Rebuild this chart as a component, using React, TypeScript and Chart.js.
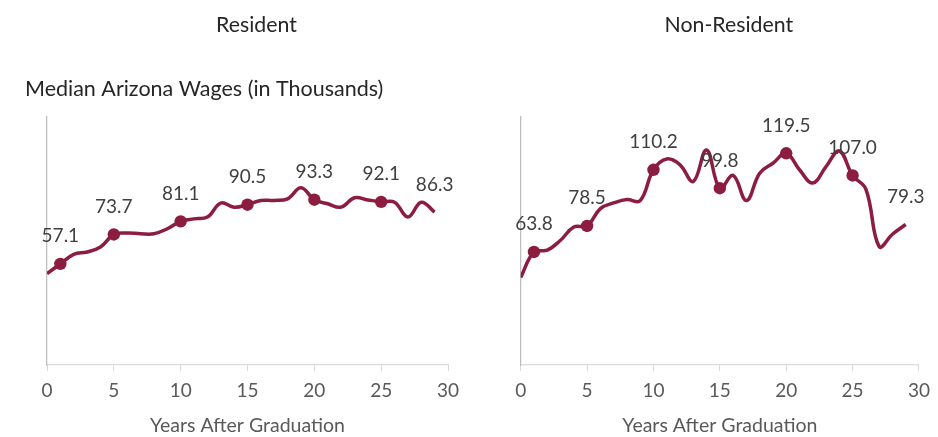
import React, { useEffect, useRef } from "react";
import { Chart, registerables } from "chart.js";

Chart.register(...registerables);

const years = [0, 1, 2, 3, 4, 5, 6, 7, 8, 9, 10, 11, 12, 13, 14, 15, 16, 17, 18, 19, 20, 21, 22, 23, 24, 25, 26, 27, 28, 29];
const residentWages = [51.6, 57.1, 62.5, 63.8, 66.6, 73.7, 74.5, 74.1, 74.1, 76.9, 81.1, 82.5, 83.5, 91.4, 89.1, 90.5, 92.9, 92.9, 93.8, 100.0, 93.3, 91.0, 89.1, 94.4, 93.2, 92.1, 91.9, 83.5, 91.9, 86.3];
const nonResidentWages = [49.5, 63.8, 64.8, 70.4, 77.9, 78.5, 88.3, 91.5, 93.4, 92.8, 110.2, 116.3, 113.0, 103.6, 121.4, 99.8, 107.0, 92.8, 108.3, 113.9, 119.5, 110.2, 102.7, 112.0, 120.8, 107.0, 99.3, 66.9, 73.8, 79.3];
const markerYears = [1, 5, 10, 15, 20, 25];
const labelYears = [1, 5, 10, 15, 20, 25, 29];
const panelTitles = ["Resident", "Non-Resident"];
const yAxisTitle = "Median Arizona Wages (in Thousands)";
const xAxisTitle = "Years After Graduation";
const xMin = 0;
const xMax = 30;
const xStep = 5;
const yMin = 0;
const yMax = 140;

const MAROON = "#8C1D40";
const FONT = "Lato";

function makeOverlay(title: string, showYTitle: boolean) {
  return {
    id: "overlayText",
    afterDraw(chart: any) {
      const ctx = chart.ctx;
      const area = chart.chartArea;
      ctx.save();
      ctx.font = `400 21.3px ${FONT}`;
      ctx.fillStyle = "#262626";
      ctx.textAlign = "center";
      ctx.textBaseline = "alphabetic";
      ctx.fillText(title, (area.left + area.right) / 2 + 9, 32);
      if (showYTitle) {
        ctx.textAlign = "left";
        ctx.font = `400 21.5px ${FONT}`;
        ctx.fillText(yAxisTitle, 25, 95.5);
      }
      const meta = chart.getDatasetMeta(0);
      const ds = chart.data.datasets[0].data as any[];
      ctx.font = `400 19px ${FONT}`;
      ctx.fillStyle = "#404040";
      ctx.textAlign = "center";
      ds.forEach((d: any, i: number) => {
        if (labelYears.includes(d.x)) {
          const el = meta.data[i];
          ctx.fillText(d.y.toFixed(1), el.x, el.y - 21.5);
        }
      });
      ctx.restore();
    },
  };
}

function Panel({ values, title, showYTitle }: { values: number[]; title: string; showYTitle: boolean }) {
  const ref = useRef<HTMLCanvasElement | null>(null);
  useEffect(() => {
    if (!ref.current) return;
    const points = years.map((x, i) => ({ x, y: values[i] }));
    const chart = new Chart(ref.current, {
      type: "line",
      data: {
        datasets: [
          {
            data: points,
            borderColor: MAROON,
            backgroundColor: MAROON,
            borderWidth: 3.5,
            tension: 0.4,
            pointRadius: years.map((y) => (markerYears.includes(y) ? 6.2 : 0)),
            pointHoverRadius: 0,
            pointBorderWidth: 0,
            fill: false,
          },
        ],
      },
      options: {
        responsive: false,
        animation: false,
        events: [],
        layout: { padding: { left: showYTitle ? 47 : 51.7, right: showYTitle ? 21 : 17, top: 117, bottom: 0 } },
        plugins: { legend: { display: false }, tooltip: { enabled: false }, title: { display: false } },
        scales: {
          x: {
            type: "linear",
            min: xMin,
            max: xMax,
            afterFit: (s: any) => {
              s.height = 72;
            },
            ticks: { stepSize: xStep, color: "#595959", font: { family: FONT, size: 19, weight: "400" }, padding: 8 },
            grid: { display: true, drawOnChartArea: false, drawTicks: true, tickLength: 6, color: "#d9d9d9" },
            border: { display: true, color: "#d9d9d9", width: 1.3 },
            title: {
              display: true,
              text: xAxisTitle,
              color: "#595959",
              font: { family: FONT, size: 19.5, weight: "400" },
              padding: { top: 0, bottom: 0 },
            },
          },
          y: {
            type: "linear",
            min: yMin,
            max: yMax,
            afterFit: (s: any) => {
              s.width = 0;
            },
            ticks: { display: false },
            grid: { display: false },
            border: { display: true, color: "#bfbfbf", width: 1.3 },
          },
        },
      },
      plugins: [makeOverlay(title, showYTitle)],
    } as any);
    return () => chart.destroy();
  }, [values, title, showYTitle]);
  return <canvas ref={ref} width={469} height={437} style={{ display: "block" }} />;
}

export default function App() {
  return (
    <div style={{ position: "fixed", left: 0, top: 0, width: 938, height: 437, display: "flex", background: "#fff" }}>
      <Panel values={residentWages} title={panelTitles[0]} showYTitle={true} />
      <Panel values={nonResidentWages} title={panelTitles[1]} showYTitle={false} />
    </div>
  );
}
